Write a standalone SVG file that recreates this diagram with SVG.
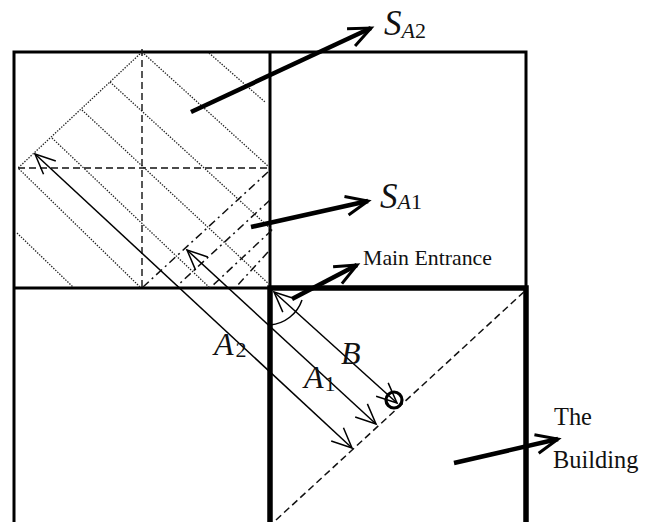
<svg xmlns="http://www.w3.org/2000/svg" width="651" height="522" viewBox="0 0 651 522">
<style>
.frame{fill:none;stroke:#000;stroke-width:3}
.bold{fill:none;stroke:#000;stroke-width:5.5}
.dot{fill:none;stroke:#222;stroke-width:1.3;stroke-dasharray:1.4 1.4}
.dash{fill:none;stroke:#111;stroke-width:1.4;stroke-dasharray:7 4}
.ddot{fill:none;stroke:#111;stroke-width:1.5;stroke-dasharray:8 4 2 4}
.thin{fill:none;stroke:#000;stroke-width:1.5;marker-start:url(#open);marker-end:url(#open)}
.thick{fill:none;stroke:#000;stroke-width:4.5;marker-end:url(#bar)}
text{font-family:"Liberation Serif","Times New Roman",serif;fill:#111}
.it{font-style:italic;font-size:32px}
.s{font-style:italic;font-size:35px}
.sub{font-size:22px}
.num{font-style:normal;font-size:22px}
.up{font-size:21.8px}
.lab{font-size:24.4px}
</style>
<defs>
<marker id="open" markerUnits="userSpaceOnUse" markerWidth="30" markerHeight="30" viewBox="-25 -15 30 30" refX="0" refY="0" orient="auto-start-reverse"><path d="M-20,-9 L0,0 L-20,9" fill="none" stroke="#000" stroke-width="1.5"/></marker>
<marker id="bar" markerUnits="userSpaceOnUse" markerWidth="34" markerHeight="34" viewBox="-29 -17 34 34" refX="0" refY="0" orient="auto"><path d="M-22,-9.5 L0,0 L-22,9.5" fill="none" stroke="#000" stroke-width="3"/></marker>
</defs>
<rect width="651" height="522" fill="#fff"/>
<g id="grid">
<path class="frame" d="M14,522 V52 H526 V288 M270,52 V288 M14,288 H270"/>
</g>
<g id="hatching">
<path class="dot" d="M142,52 L18,168 L140,287 M142,52 L268,166 M209,53 L265,102 M110,82 L272,230 M82,110 L270,285 M52,138 L210,288 M17,233 L73,287"/>
<path class="dash" d="M142,49 V288 M18,168 H268"/>
<path class="ddot" d="M268,172 L143,287 M270,200 L177,286 M272,230 L210,288 M268,252 L236,287"/>
</g>
<g id="building">
<path class="bold" d="M270,522 V288 H526 V522"/>
<path fill="none" stroke="#111" stroke-width="1.5" stroke-dasharray="7 4" d="M276,520 L526,290"/>
<path fill="none" stroke="#000" stroke-width="1.5" d="M270,325 A37,37 0 0 0 302,300"/>
<circle cx="394" cy="400" r="8" fill="none" stroke="#000" stroke-width="3.2"/>
</g>
<g id="connectors">
<path class="thin" d="M35,154 L352,448"/>
<path class="thin" d="M187,250 L376,424"/>
<path class="thin" d="M274,292 L397,403"/>
<path class="thick" d="M191,112 L371,28"/>
<path class="thick" d="M251,227 L368,201"/>
<path class="thick" d="M292,299 L357,265"/>
<path class="thick" d="M454,463 L558,439"/>
</g>
<g id="label-sa2"><text x="384" y="35" class="s">S<tspan class="sub" dy="3">A</tspan><tspan class="num">2</tspan></text></g>
<g id="label-sa1"><text x="380" y="208" class="s">S<tspan class="sub" dy="1">A</tspan><tspan class="num">1</tspan></text></g>
<g id="label-main-entrance"><text x="363" y="265" class="up">Main Entrance</text></g>
<g id="label-building"><text x="554" y="425" class="lab">The</text><text x="553" y="468" class="lab">Building</text></g>
<g id="label-a2"><text x="214" y="355" class="it">A<tspan class="num" dy="2" dx="2">2</tspan></text></g>
<g id="label-a1"><text x="304" y="388" class="it">A<tspan class="num" dy="3" dx="1">1</tspan></text></g>
<g id="label-b"><text x="341" y="364" class="it">B</text></g>
</svg>
